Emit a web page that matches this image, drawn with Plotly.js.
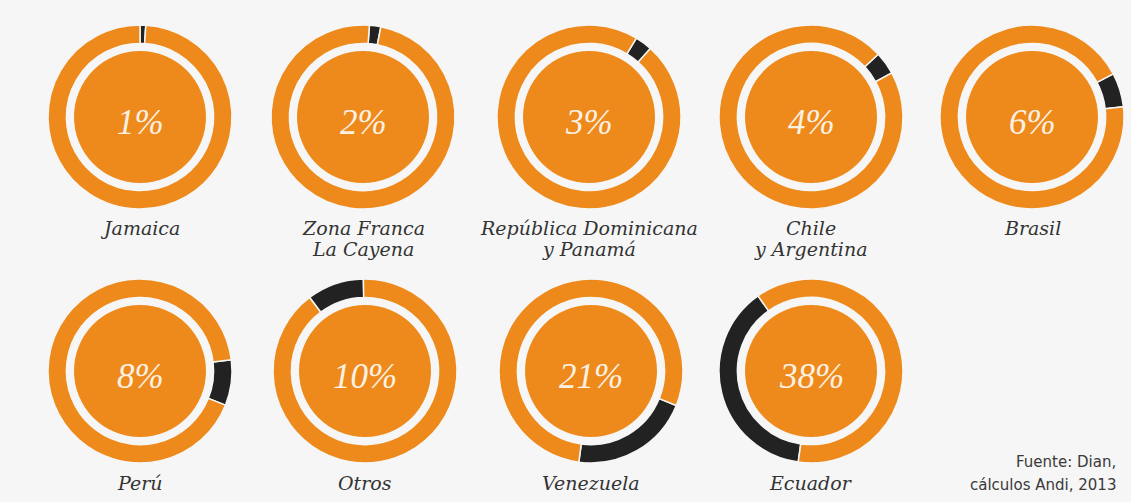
<!DOCTYPE html>
<html>
<head>
<meta charset="utf-8">
<script src="https://cdn.plot.ly/plotly-3.0.1.min.js"></script>
<style>
  html, body { margin: 0; padding: 0; background: #f6f6f6; }
  #chart { width: 1131px; height: 502px; }
</style>
</head>
<body>
<div id="chart"></div>
<script>
// ---- data ----
var countries = ['Jamaica', 'Zona Franca<br>La Cayena', 'República Dominicana<br>y Panamá',
                 'Chile<br>y Argentina', 'Brasil', 'Perú', 'Otros', 'Venezuela', 'Ecuador'];
var shares = [1, 2, 3, 4, 6, 8, 10, 21, 38];
var sourceLines = ['Fuente: Dian,', 'cálculos Andi, 2013'];

// ---- layout helpers (positions / styles) ----
var W = 1131, H = 502;
var centersX = [140, 363, 589, 811, 1032, 140, 365, 591, 811];
var centersY = [117, 117, 117, 117, 117, 371, 371, 371, 371];
var labelY = [228, 228, 228, 228, 228, 483, 483, 483, 483];
var startAngles = [0, 4, 31, 47, 62, 83, 323, 112, 188];
var R_OUT = 92, R_IN = 66;
var LINE_GAP = 21;
var ORANGE = '#ee8a1b', DARK = '#222222', BG = '#f6f6f6';

function dom(cx, cy, r) {
  return { x: [(cx - r) / W, (cx + r) / W], y: [1 - (cy + r) / H, 1 - (cy - r) / H] };
}
function px(x) { return x / W; }
function py(y) { return 1 - y / H; }

var traces = [];
var annotations = [];
for (var i = 0; i < shares.length; i++) {
  var cx = centersX[i], cy = centersY[i];
  traces.push({
    type: 'pie',
    values: [shares[i], 100 - shares[i]],
    labels: ['share', 'rest'],
    sort: false,
    direction: 'clockwise',
    rotation: startAngles[i],
    hole: 0.8,
    textinfo: 'none',
    hoverinfo: 'skip',
    marker: { colors: [DARK, ORANGE], line: { color: BG, width: 1.5 } },
    domain: dom(cx, cy, R_OUT),
    showlegend: false
  });
  traces.push({
    type: 'pie',
    values: [1],
    labels: ['disk'],
    sort: false,
    textinfo: 'none',
    hoverinfo: 'skip',
    marker: { colors: [ORANGE], line: { width: 0 } },
    domain: dom(cx, cy, R_IN),
    showlegend: false
  });
  annotations.push({
    xref: 'paper', yref: 'paper', x: px(cx), y: py(cy + 5),
    xanchor: 'center', yanchor: 'middle', showarrow: false,
    text: shares[i] + '%',
    font: { family: 'Liberation Serif', size: 35, color: '#fbf1e4', style: 'italic' }
  });
  var lines = countries[i].split('<br>');
  for (var k = 0; k < lines.length; k++) {
    annotations.push({
      xref: 'paper', yref: 'paper', x: px(cx), y: py(labelY[i] + k * LINE_GAP),
      xanchor: 'center', yanchor: 'middle', showarrow: false,
      text: lines[k],
      font: { family: 'DejaVu Serif', size: 19, color: '#333333', style: 'italic' }
    });
  }
}
for (var j = 0; j < sourceLines.length; j++) {
  annotations.push({
    xref: 'paper', yref: 'paper', x: px(1118), y: py(462 + j * 23),
    xanchor: 'right', yanchor: 'middle', showarrow: false,
    text: sourceLines[j],
    font: { family: 'DejaVu Sans', size: 15, color: '#3a3a3a' }
  });
}

var layout = {
  width: W, height: H,
  margin: { l: 0, r: 0, t: 0, b: 0 },
  paper_bgcolor: BG, plot_bgcolor: BG,
  showlegend: false,
  annotations: annotations
};
Plotly.newPlot('chart', traces, layout, { displayModeBar: false, staticPlot: true });
</script>
</body>
</html>
